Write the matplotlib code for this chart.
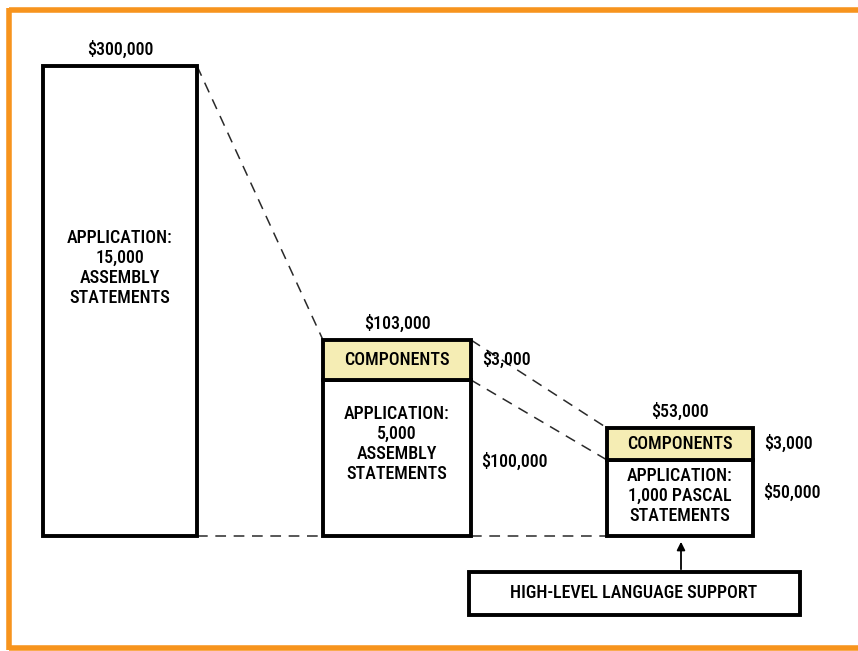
import matplotlib
matplotlib.use("Agg")
import matplotlib.pyplot as plt
from matplotlib.patches import Rectangle

# ---- data ----
totals = ["$300,000", "$103,000", "$53,000"]
component_costs = [None, "$3,000", "$3,000"]
application_costs = [None, "$100,000", "$50,000"]
application_labels = [
    "APPLICATION:\n15,000\nASSEMBLY\nSTATEMENTS",
    "APPLICATION:\n5,000\nASSEMBLY\nSTATEMENTS",
    "APPLICATION:\n1,000 PASCAL\nSTATEMENTS",
]
component_label = "COMPONENTS"
support_label = "HIGH-LEVEL LANGUAGE SUPPORT"
# schematic (not-to-scale) block heights as drawn in the original diagram
application_height = [470, 156, 76]
component_height = [0, 40, 32]

# ---- layout / style ----
x_center = [120, 397, 680]
widths = [154, 148, 146]
label_y = [268, 92, 40]          # vertical position of the application labels
app_cost_y = [None, 74, 43]      # vertical position of the application cost labels
ORANGE = "#F7941D"
YELLOW = "#F5EDB4"
FONT = ["Roboto Condensed", "DejaVu Sans"]
FS = 13
WEIGHT = 500
LW = 2.8

fig = plt.figure(figsize=(8.58, 6.51), dpi=100)
ax = fig.add_axes([0, 0, 1, 1])
ax.set_xlim(0, 858)
ax.set_ylim(-115, 536)
ax.axis("off")

# orange frame (top, left, bottom)
for xs, ys in [([9, 858], [526, 526]), ([9, 9], [528, -114]), ([9, 858], [-112, -112])]:
    ax.plot(xs, ys, color=ORANGE, lw=4, solid_capstyle="butt", clip_on=False)

# application blocks
ax.bar(x_center, application_height, width=widths, bottom=0,
       facecolor="white", edgecolor="black", linewidth=LW, zorder=3)
# component blocks
for i, h in enumerate(component_height):
    if h > 0:
        ax.bar(x_center[i], h, width=widths[i], bottom=application_height[i],
               facecolor=YELLOW, edgecolor="black", linewidth=LW, zorder=3)
        ax.text(x_center[i], application_height[i] + h / 2, component_label,
                ha="center", va="center", fontsize=FS, family=FONT, weight=WEIGHT, zorder=4)

tops = [a + c for a, c in zip(application_height, component_height)]
lefts = [x - w / 2 for x, w in zip(x_center, widths)]
rights = [x + w / 2 for x, w in zip(x_center, widths)]

dash = dict(color="#2a2a2a", lw=1.1, linestyle=(0, (7, 5)), zorder=2)
# connecting dashed lines
ax.plot([rights[0], lefts[1]], [tops[0], tops[1]], **dash)
ax.plot([rights[1], lefts[2]], [tops[1], tops[2]], **dash)
ax.plot([rights[1], lefts[2]], [application_height[1], application_height[2]], **dash)
ax.plot([rights[0], lefts[1]], [0, 0], **dash)
ax.plot([rights[1], lefts[2]], [0, 0], **dash)

# totals above blocks and application labels
for i in range(3):
    ax.text(x_center[i], tops[i] + 16, totals[i], ha="center", va="center",
            fontsize=FS, family=FONT, weight=WEIGHT)
    ax.text(x_center[i], label_y[i], application_labels[i],
            ha="center", va="center", fontsize=FS, family=FONT, weight=WEIGHT,
            linespacing=1.15, zorder=4)

# side cost labels
for i in range(1, 3):
    ax.text(rights[i] + 11, application_height[i] + component_height[i] / 2,
            component_costs[i], ha="left", va="center", fontsize=FS, family=FONT, weight=WEIGHT)
    ax.text(rights[i] + 10, app_cost_y[i],
            application_costs[i], ha="left", va="center", fontsize=FS, family=FONT, weight=WEIGHT)

# high-level language support box
box = Rectangle((469, -79), 331, 43, facecolor="white", edgecolor="black",
                linewidth=LW, zorder=3)
ax.add_patch(box)
ax.text(634, -57, support_label, ha="center", va="center", fontsize=FS,
        family=FONT, weight=WEIGHT, zorder=4)
ax.annotate("", xy=(x_center[2] + 1, -3), xytext=(x_center[2] + 1, -36),
            arrowprops=dict(arrowstyle="-|>", color="black", lw=1.3, mutation_scale=12))

fig.savefig("out.png", dpi=100, facecolor="white")
